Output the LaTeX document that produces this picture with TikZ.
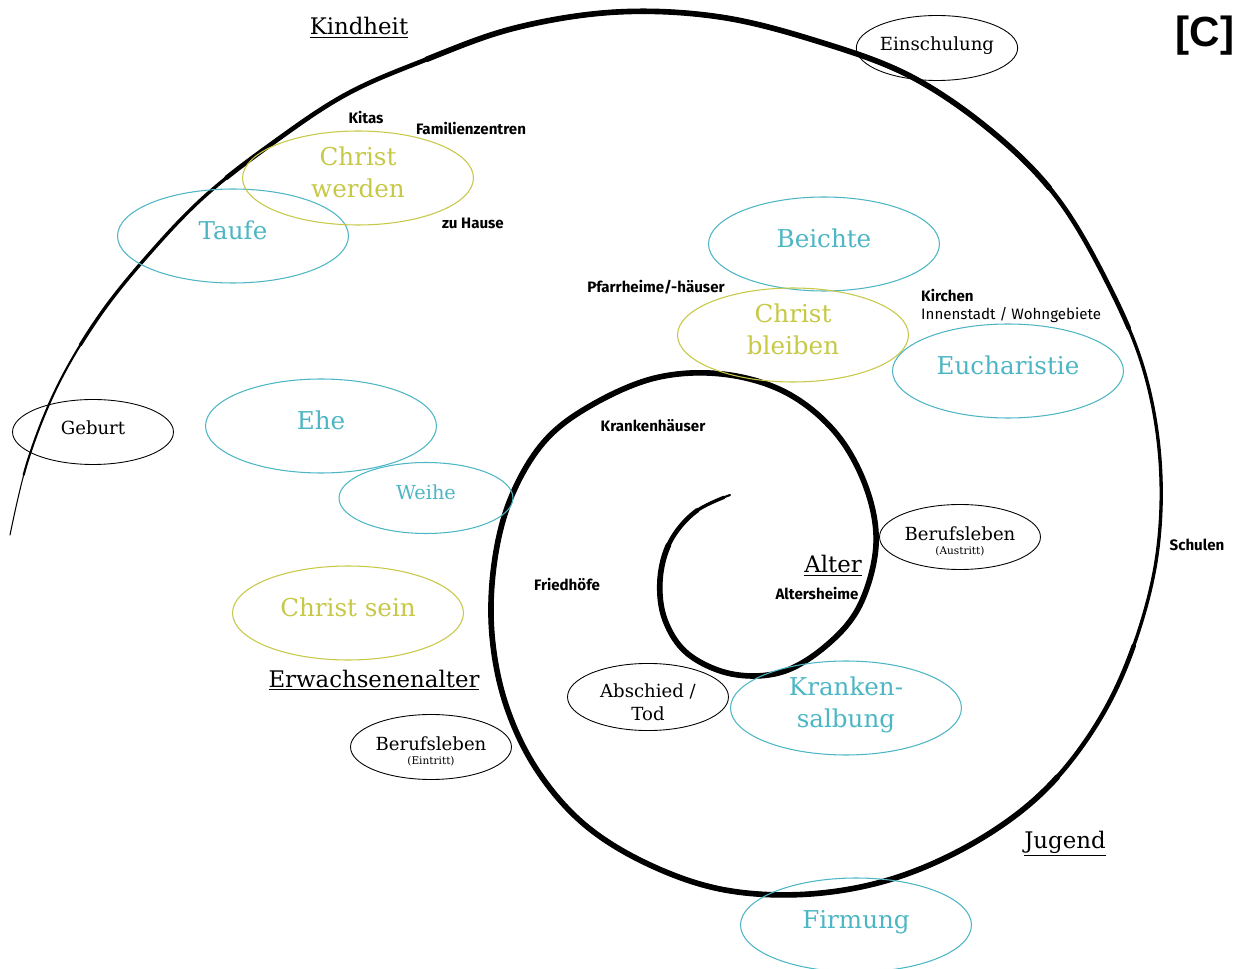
\documentclass[tikz,border=0pt]{standalone}
\usepackage{fontspec}
\setmainfont{DejaVu Serif}
\setsansfont{Fira Sans}
\newfontfamily\headfont{Liberation Sans}
\usetikzlibrary{shapes.geometric}

\definecolor{tuerkis}{RGB}{77,182,196}
\definecolor{oliv}{RGB}{198,200,70}

\newcommand\schneckenpfad{plot[smooth, tension=0.6] coordinates {
    (10,535) (28,460) (58,385) (100,315) (150,253) (205,196) (270,145)
    (345,95) (425,60) (515,28) (617,12) (720,17) (820,42) (910,76)
    (990,130) (1055,195) (1105,278) (1143,367) (1160,460) (1157,555)
    (1134,645) (1098,722) (1045,790) (977,841) (895,878) (810,894)
    (725,890) (650,865) (585,825) (537,770) (506,705) (492,635)
    (494,565) (510,500) (543,443) (590,406) (655,378) (722,374)
    (785,392) (835,432) (866,487) (876,545) (860,605) (827,645)
    (782,672) (732,674) (688,654) (665,620) (660,580) (670,542)
    (695,512) (730,495)}}

\tikzset{
  sakrament/.style={ellipse, draw=tuerkis, line width=0.6pt, text=tuerkis,
    minimum width=4.62cm, minimum height=1.88cm, inner sep=0pt, align=center,
    text depth=0.65em, font=\fontsize{14}{18.5}\selectfont},
  christ/.style={sakrament, draw=oliv, text=oliv},
  ereignis/.style={ellipse, draw=black, line width=0.5pt,
    minimum width=3.22cm, minimum height=1.3cm, inner sep=0pt, align=center,
    text depth=0.45em, font=\fontsize{10.3}{13}\selectfont},
  phase/.style={anchor=base, font=\fontsize{13}{15}\selectfont},
  ort/.style={font=\sffamily\bfseries\fontsize{8.6}{10}\selectfont},
  schnecke/.style={line width=#1, line cap=round, line join=round}
}

\begin{document}
\begin{tikzpicture}[x=0.02cm, y=-0.02cm]
  \useasboundingbox (0,0) rectangle (1242,969);

  % Lebensschnecke: gleicher Pfad, nach innen dicker gezeichnet
  \draw[schnecke=0.6pt] \schneckenpfad;
  \draw[schnecke=1.2pt, dash pattern=on 2161pt off 5000pt, dash phase=7126pt] \schneckenpfad;
  \draw[schnecke=1.9pt, dash pattern=on 2066pt off 5000pt, dash phase=6950pt] \schneckenpfad;
  \draw[schnecke=2.6pt, dash pattern=on 612pt off 185pt on 1125pt off 5000pt,
    dash phase=6679pt] \schneckenpfad;
  \draw[schnecke=3.2pt, dash pattern=on 387pt off 364pt on 1012pt off 5000pt,
    dash phase=6387pt] \schneckenpfad;

  % Sakramente
  \node[sakrament] (taufe) at (233,236) {Taufe};
  \node[sakrament] (ehe) at (321,426) {Ehe};
  \node[sakrament, minimum width=3.48cm, minimum height=1.42cm,
    font=\fontsize{11}{14}\selectfont] (weihe) at (426,498) {Weihe};
  \node[sakrament] (beichte) at (824,244) {Beichte};
  \node[sakrament] (eucharistie) at (1008,371) {Eucharistie};
  \node[sakrament] (krankensalbung) at (846,708) {Kranken-\\salbung};
  \node[sakrament] (firmung) at (856,925) {Firmung};

  % Christ werden / bleiben / sein
  \node[christ] (werden) at (358,178) {Christ\\werden};
  \node[christ] (bleiben) at (793,335) {Christ\\bleiben};
  \node[christ] (sein) at (348,613) {Christ sein};

  % Ereignisse
  \node[ereignis] (einschulung) at (937,48) {Einschulung};
  \node[ereignis] (geburt) at (93,432) {Geburt};
  \node[ereignis, text depth=0pt] (austritt) at (960,537)
    {\rule{0pt}{12pt}Berufsleben\\[-5pt]{\fontsize{6}{7}\selectfont (Austritt)}};
  \node[ereignis, text depth=0pt] (abschied) at (648,697)
    {\rule{0pt}{14pt}Abschied /\\Tod};
  \node[ereignis, text depth=0pt] (eintritt) at (431,747)
    {\rule{0pt}{12pt}Berufsleben\\[-5pt]{\fontsize{6}{7}\selectfont (Eintritt)}};

  % Lebensphasen
  \node[phase] (kindheit) at (359,35) {\underline{Kindheit}};
  \node[phase] (alter) at (833,573) {\underline{Alter}};
  \node[phase] (erwachsen) at (374,687) {\underline{Erwachsenenalter}};
  \node[phase] (jugend) at (1065,848) {\underline{Jugend}};

  % Orte
  \node[ort] (kitas) at (366,118) {Kitas};
  \node[ort] (familien) at (471,129) {Familienzentren};
  \node[ort] (zuhause) at (473,223) {zu Hause};
  \node[ort] (pfarr) at (656,287) {Pfarrheime/-häuser};
  \node[ort, anchor=west] (kirchen) at (915,296) {Kirchen};
  \node[ort, anchor=west, font=\sffamily\fontsize{8.6}{10}\selectfont]
    (innenstadt) at (915,315) {Innenstadt / Wohngebiete};
  \node[ort] (krankenhaus) at (653,426) {Krankenhäuser};
  \node[ort] (schulen) at (1197,545) {Schulen};
  \node[ort] (altersheime) at (817,594) {Altersheime};
  \node[ort] (friedhoefe) at (567,585) {Friedhöfe};

  \node[font=\headfont\bfseries\fontsize{24}{24}\selectfont] (kennung) at (1205,36) {[C]};
\end{tikzpicture}
\end{document}
